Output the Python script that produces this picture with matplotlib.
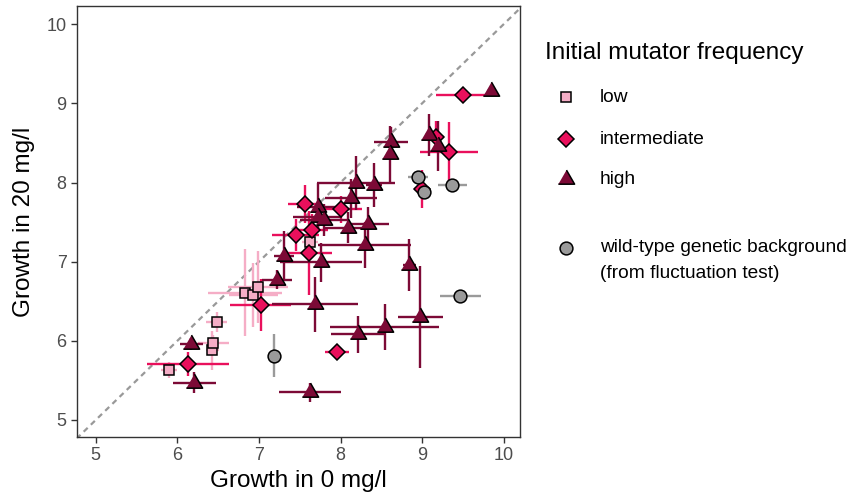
import matplotlib
matplotlib.use("Agg")
import matplotlib.pyplot as plt
from matplotlib.lines import Line2D
import numpy as np

plt.rcParams['font.family'] = ['Liberation Sans', 'DejaVu Sans']

# growth (mean +/- error) without and with antibiotic, per initial mutator frequency
low_x = [5.90, 6.43, 6.44, 6.48, 6.83, 6.93, 6.99, 7.63]
low_y = [5.63, 5.88, 5.97, 6.24, 6.61, 6.58, 6.68, 7.25]
low_xerr = [0.10, 0.08, 0.19, 0.13, 0.45, 0.30, 0.37, 0.10]
low_yerr = [0.10, 0.25, 0.10, 0.13, 0.55, 0.40, 0.45, 0.10]

mid_x = [6.13, 7.02, 7.96, 7.45, 7.56, 7.61, 7.65, 8.01, 9.17, 9.33, 9.50, 9.00]
mid_y = [5.71, 6.45, 5.86, 7.34, 7.73, 7.11, 7.40, 7.66, 8.58, 8.38, 9.11, 7.92]
mid_xerr = [0.50, 0.37, 0.15, 0.29, 0.20, 0.29, 0.20, 0.25, 0.10, 0.35, 0.33, 0.10]
mid_yerr = [0.15, 0.33, 0.03, 0.20, 0.24, 0.53, 0.20, 0.17, 0.20, 0.38, 0.03, 0.24]

high_x = [6.17, 6.21, 7.22, 7.31, 7.69, 7.63, 8.21, 8.54, 8.98, 8.84, 8.30, 7.76, 8.09,
          8.34, 7.72, 7.72, 7.80, 8.13, 8.19, 8.41, 8.62, 8.61, 9.09, 9.20, 9.84]
high_y = [5.96, 5.47, 6.77, 7.07, 6.46, 5.35, 6.08, 6.17, 6.30, 6.96, 7.21, 6.99, 7.43,
          7.47, 7.69, 7.57, 7.53, 7.80, 7.99, 7.97, 8.51, 8.36, 8.60, 8.46, 9.15]
high_xerr = [0.14, 0.26, 0.18, 0.12, 0.53, 0.38, 0.33, 0.67, 0.28, 0.08, 0.57, 0.50, 0.30,
             0.25, 0.25, 0.30, 0.30, 0.32, 0.48, 0.10, 0.21, 0.05, 0.05, 0.05, 0.05]
high_yerr = [0.08, 0.13, 0.12, 0.32, 0.35, 0.12, 0.23, 0.29, 0.64, 0.33, 0.29, 0.25, 0.20,
             0.22, 0.30, 0.20, 0.20, 0.25, 0.34, 0.28, 0.19, 0.36, 0.27, 0.32, 0.03]

# wild-type background, from the fluctuation test
wt_x = [8.95, 9.02, 9.37, 9.47, 7.18]
wt_y = [8.07, 7.88, 7.97, 6.56, 5.81]
wt_xerr = [0.12, 0.05, 0.18, 0.25, 0.03]
wt_yerr = [0.05, 0.05, 0.02, 0.03, 0.27]

c_low = '#F5ADC6'
c_mid = '#E9105C'
c_high = '#7C0A36'
c_wt = '#9A9A9A'

tri = [(-1, -0.577), (1, -0.577), (0, 1.155)]

groups = [
    (low_x, low_y, low_xerr, low_yerr, c_low, 's', 7.6),
    (mid_x, mid_y, mid_xerr, mid_yerr, c_mid, 'D', 7.8),
    (high_x, high_y, high_xerr, high_yerr, c_high, tri, 13.5),
    (wt_x, wt_y, wt_xerr, wt_yerr, c_wt, 'o', 9.2),
]

fig = plt.figure(figsize=(8.53, 5.01), dpi=100)
ax = fig.add_axes([77/853, 1-437/501, (520-77)/853, (437-6)/501])

ax.plot([4.5, 10.5], [4.5, 10.5], ls=(0, (2.5, 2)), color='#999999', lw=1.6, zorder=1)

for gx, gy, ex, ey, col, mk, ms in groups:
    ax.errorbar(gx, gy, xerr=ex, yerr=ey, fmt='none', ecolor=col, elinewidth=1.7,
                capsize=0, zorder=2)
for gx, gy, ex, ey, col, mk, ms in groups:
    ax.plot(gx, gy, ls='none', marker=mk, ms=ms, mfc=col, mec='black', mew=1.1, zorder=3)

ax.set_xlim(4.77, 10.2)
ax.set_ylim(4.785, 10.23)
ax.set_xticks([5, 6, 7, 8, 9, 10])
ax.set_yticks([5, 6, 7, 8, 9, 10])
ax.tick_params(direction='out', length=4, width=1, color='#333333',
               labelsize=13, labelcolor='#4D4D4D')
for s in ax.spines.values():
    s.set_color('#333333')
    s.set_linewidth(1.0)
ax.set_xlabel('Growth in 0 mg/l', fontsize=17.5, labelpad=4)
ax.set_ylabel('Growth in 20 mg/l', fontsize=17.5, labelpad=8)

# legend drawn in figure pixels
W, H = 853, 501
def fx(px):
    return px / W
def fy(py):
    return 1 - py / H

fig.text(fx(545), fy(53), 'Initial mutator frequency', fontsize=17.5, va='center', ha='left')
keys = [('low', c_low, 's', 7.6, 97), ('intermediate', c_mid, 'D', 7.8, 139),
        ('high', c_high, tri, 13.5, 179)]
for lab, col, mk, ms, py in keys:
    fig.add_artist(Line2D([fx(566)], [fy(py)], transform=fig.transFigure, ls='none',
                          marker=mk, ms=ms, mfc=col, mec='black', mew=1.1))
    fig.text(fx(600), fy(py), lab, fontsize=13.8, va='center', ha='left')
fig.add_artist(Line2D([fx(566)], [fy(248)], transform=fig.transFigure, ls='none',
                      marker='o', ms=9.2, mfc=c_wt, mec='black', mew=1.1))
fig.text(fx(600), fy(248), 'wild-type genetic background', fontsize=13.8, va='center', ha='left')
fig.text(fx(600), fy(273), '(from fluctuation test)', fontsize=13.8, va='center', ha='left')

fig.savefig('out.png', dpi=100)
